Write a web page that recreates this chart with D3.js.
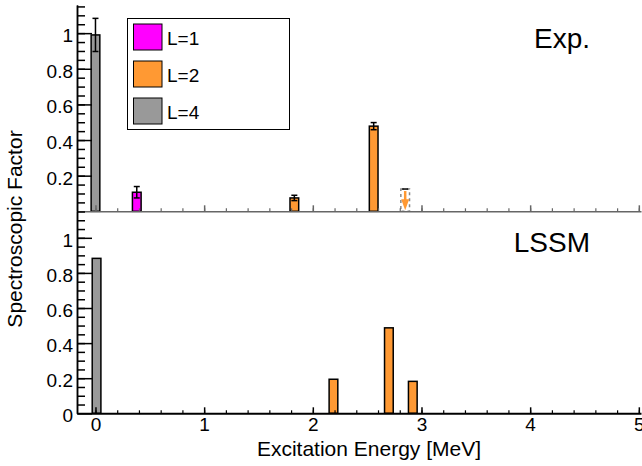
<!DOCTYPE html>
<html>
<head>
<meta charset="utf-8">
<script src="https://cdn.jsdelivr.net/npm/d3@7"></script>
<style>
  html, body { margin: 0; padding: 0; background: #fff; }
  svg { display: block; font-family: "Liberation Sans", Arial, sans-serif; }
</style>
</head>
<body>
<div id="chart"></div>
<script>
// ── Data ─────────────────────────────────────────────────────────────────────
const expEnergy = [0.0, 0.38, 1.83, 2.56];
const expSF     = [0.99, 0.107, 0.075, 0.478];
const expErr    = [0.093, 0.032, 0.015, 0.02];
const expL      = [4, 1, 2, 2];

// upper limit (dashed, arrow)
const limitEnergy = [2.85];
const limitSF     = [0.125];
const limitL      = [2];

const ssmEnergy = [0.01, 2.19, 2.70, 2.92];
const ssmSF     = [0.883, 0.194, 0.487, 0.182];
const ssmL      = [4, 2, 2, 2];

const legendL      = [1, 2, 4];
const legendLabels = ['L=1', 'L=2', 'L=4'];
const topTicks     = [0.2, 0.4, 0.6, 0.8, 1];
const botTicks     = [0, 0.2, 0.4, 0.6, 0.8, 1];
const xTicks       = [0, 1, 2, 3, 4, 5];

const colorL = { 1: '#ff00ff', 2: '#ff9933', 4: '#999999' };

// ── Layout ───────────────────────────────────────────────────────────────────
const W = 642, H = 466;
const BAR_W = 0.08; // MeV
const TICK_FS = 19;

const svg = d3.select('#chart').append('svg')
  .attr('width', W).attr('height', H);

const x = d3.scaleLinear().domain([-0.17, 5.02]).range([77, 641]);
const yTop = d3.scaleLinear().domain([0, 1.158]).range([211.3, 5]);
const yBot = d3.scaleLinear().domain([0, 1.15]).range([413.3, 211.5]);

const minorY = d3.range(0.05, 1.151, 0.05);
const minorX = d3.range(-0.2, 5.01, 0.2).filter((v) => v > -0.171);

function styleAxis(g, color, width) {
  g.selectAll('path, line').attr('stroke', color).attr('stroke-width', width);
  g.selectAll('text').attr('fill', '#000').attr('font-size', TICK_FS);
}

function yAxis(scale, labels) {
  // minor ticks
  const gm = svg.append('g').attr('transform', `translate(${x.range()[0]},0)`)
    .call(d3.axisLeft(scale).tickValues(minorY).tickSize(-8).tickSizeOuter(0).tickFormat(''));
  styleAxis(gm, '#000', 1.5);
  // major ticks with labels
  const g = svg.append('g').attr('transform', `translate(${x.range()[0]},0)`)
    .call(d3.axisLeft(scale).tickValues(labels).tickSize(-15).tickSizeOuter(0)
      .tickPadding(4).tickFormat(d3.format('~g')));
  styleAxis(g, '#000', 1.5);
  g.selectAll('text').attr('dy', '0.45em');
}

function xAxis(y0, color, width, labelled) {
  const gm = svg.append('g').attr('transform', `translate(0,${y0})`)
    .call(d3.axisBottom(x).tickValues(minorX).tickSize(-3).tickSizeOuter(0).tickFormat(''));
  styleAxis(gm, color, width);
  gm.selectAll('line').attr('stroke-width', 1.2);
  const g = svg.append('g').attr('transform', `translate(0,${y0})`)
    .call(d3.axisBottom(x).tickValues(xTicks).tickSize(-6).tickSizeOuter(0)
      .tickPadding(4).tickFormat(labelled ? d3.format('d') : ''));
  styleAxis(g, color, width);
  g.selectAll('line').attr('stroke-width', 1.5);
  g.select('.domain').remove();
}

function bars(energy, sf, L, yScale) {
  svg.append('g').selectAll('rect')
    .data(energy.map((e, i) => ({ e, v: sf[i], L: L[i] })))
    .join('rect')
    .attr('x', (d) => x(d.e - BAR_W / 2))
    .attr('width', (d) => x(d.e + BAR_W / 2) - x(d.e - BAR_W / 2))
    .attr('y', (d) => yScale(d.v))
    .attr('height', (d) => yScale(0) - yScale(d.v))
    .attr('fill', (d) => colorL[d.L])
    .attr('stroke', '#000')
    .attr('stroke-width', 1.5);
}

// ── Top panel (Exp.) ─────────────────────────────────────────────────────────
bars(expEnergy, expSF, expL, yTop);

// error bars
const errG = svg.append('g').attr('stroke', '#000').attr('stroke-width', 1.5);
expEnergy.forEach((e, i) => {
  const cx = x(e);
  const y1 = yTop(expSF[i] + expErr[i]);
  const y2 = yTop(expSF[i] - expErr[i]);
  errG.append('line').attr('x1', cx).attr('x2', cx).attr('y1', y1).attr('y2', y2);
  errG.append('line').attr('x1', cx - 3).attr('x2', cx + 3).attr('y1', y1).attr('y2', y1);
  errG.append('line').attr('x1', cx - 3).attr('x2', cx + 3).attr('y1', y2).attr('y2', y2);
});

// upper limit marker
limitEnergy.forEach((e, i) => {
  const x0 = x(e - BAR_W / 2), x1 = x(e + BAR_W / 2), cx = x(e);
  const yt = yTop(limitSF[i]), yb = yTop(0);
  svg.append('rect')
    .attr('x', x0).attr('y', yt).attr('width', x1 - x0).attr('height', yb - yt)
    .attr('fill', 'none').attr('stroke', '#888').attr('stroke-width', 1.5)
    .attr('stroke-dasharray', '3,3');
  svg.append('line').attr('x1', cx).attr('x2', cx).attr('y1', yt + 2).attr('y2', yb - 8)
    .attr('stroke', colorL[limitL[i]]).attr('stroke-width', 2.5);
  svg.append('path')
    .attr('d', `M${cx - 4},${yb - 12}L${cx + 4},${yb - 12}L${cx},${yb - 1}Z`)
    .attr('fill', colorL[limitL[i]]);
  svg.append('line').attr('x1', cx - 3).attr('x2', cx + 3).attr('y1', yt).attr('y2', yt)
    .attr('stroke', '#000').attr('stroke-width', 1.5);
});

xAxis(yTop(0), '#666', 1.5, false);
yAxis(yTop, topTicks);

// ── Bottom panel (LSSM) ──────────────────────────────────────────────────────
bars(ssmEnergy, ssmSF, ssmL, yBot);
xAxis(yBot(0), '#000', 2, true);
yAxis(yBot, botTicks);

// ── Legend ───────────────────────────────────────────────────────────────────
svg.append('rect')
  .attr('x', 127.5).attr('y', 18.5).attr('width', 162).attr('height', 111)
  .attr('fill', '#fff').attr('stroke', '#000').attr('stroke-width', 1);
const leg = svg.append('g');
legendL.forEach((L, i) => {
  const yy = 24 + i * 37;
  leg.append('rect').attr('x', 133.5).attr('y', yy).attr('width', 28.5).attr('height', 26)
    .attr('fill', colorL[L]).attr('stroke', '#000').attr('stroke-width', 1);
  leg.append('text').attr('x', 167).attr('y', yy + 20.5)
    .attr('font-size', 19).text(legendLabels[i]);
});

// ── Texts ────────────────────────────────────────────────────────────────────
svg.append('text').attr('x', 590).attr('y', 48).attr('text-anchor', 'end')
  .attr('font-size', 28).text('Exp.');
svg.append('text').attr('x', 590).attr('y', 252).attr('text-anchor', 'end')
  .attr('font-size', 28).text('LSSM');

svg.append('text').attr('x', 369).attr('y', 456).attr('text-anchor', 'middle')
  .attr('font-size', 21).text('Excitation Energy [MeV]');
svg.append('text')
  .attr('transform', 'translate(22,229) rotate(-90)')
  .attr('text-anchor', 'middle').attr('font-size', 21).text('Spectroscopic Factor');
</script>
</body>
</html>
